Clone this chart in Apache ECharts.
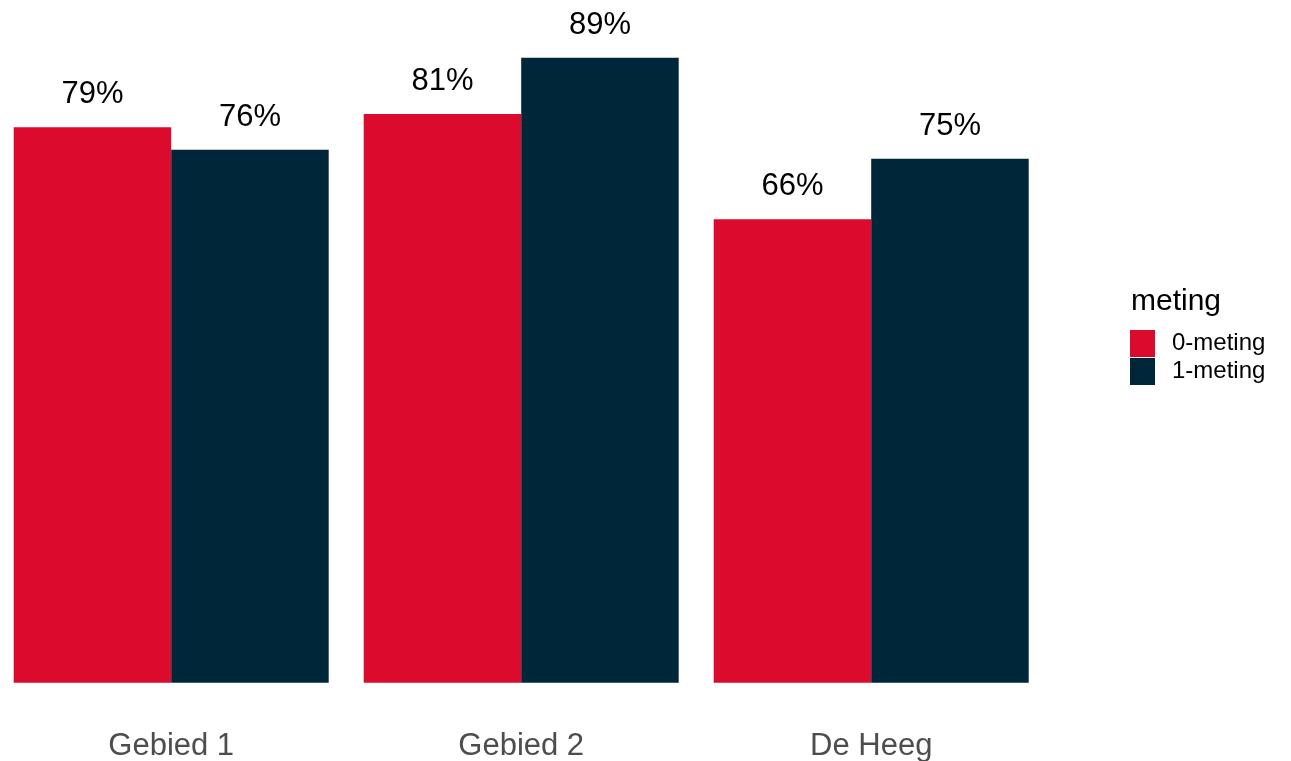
<!DOCTYPE html>
<html>
<head>
<meta charset="utf-8">
<script src="https://cdn.jsdelivr.net/npm/echarts@6/dist/echarts.min.js"></script>
<style>html,body{margin:0;padding:0;background:#fff;}#c{width:1291px;height:761px;}</style>
</head>
<body>
<div id="c"></div>
<script>
const categories = ['Gebied 1', 'Gebied 2', 'De Heeg'];
const seriesNames = ['0-meting', '1-meting'];
const meting0 = [79.1, 81.0, 66.0];
const meting1 = [75.9, 89.0, 74.6];
const legendTitle = 'meting';
const colors = ['#DC0A2D', '#00263A'];
const FONT = "'Liberation Sans', Arial, sans-serif";

const chart = echarts.init(document.getElementById('c'));
const labelCfg = {
  show: true,
  position: 'top',
  distance: 17,
  fontSize: 31,
  fontFamily: FONT,
  color: '#000',
  formatter: p => Math.round(p.value) + '%'
};
chart.setOption({
  animation: false,
  backgroundColor: '#fff',
  grid: { left: -3.8, width: 1050, top: 50.7, bottom: 78.3, containLabel: false, outerBoundsMode: 'none' },
  xAxis: {
    type: 'category',
    data: categories,
    axisLine: { show: false },
    axisTick: { show: false },
    axisLabel: { fontSize: 31, fontFamily: FONT, color: '#4D4D4D', margin: 48 }
  },
  yAxis: {
    type: 'value', min: 0, max: 90,
    show: false,
    splitLine: { show: false }
  },
  legend: {
    orient: 'vertical',
    left: 1125,
    top: 325,
    itemWidth: 25,
    itemHeight: 27,
    itemGap: 1,
    icon: 'rect',
    data: seriesNames,
    textStyle: { fontSize: 24, fontFamily: FONT, color: '#000', padding: [5, 0, 0, 12] }
  },
  graphic: [{
    type: 'text',
    left: 1131,
    top: 287,
    style: { text: legendTitle, font: '30px ' + FONT, fill: '#000' }
  }],
  series: [
    { name: seriesNames[0], type: 'bar', data: meting0, barGap: '0%', barCategoryGap: '10%', itemStyle: { color: colors[0] }, label: labelCfg },
    { name: seriesNames[1], type: 'bar', data: meting1, barGap: '0%', barCategoryGap: '10%', itemStyle: { color: colors[1] }, label: labelCfg }
  ]
});
</script>
</body>
</html>
